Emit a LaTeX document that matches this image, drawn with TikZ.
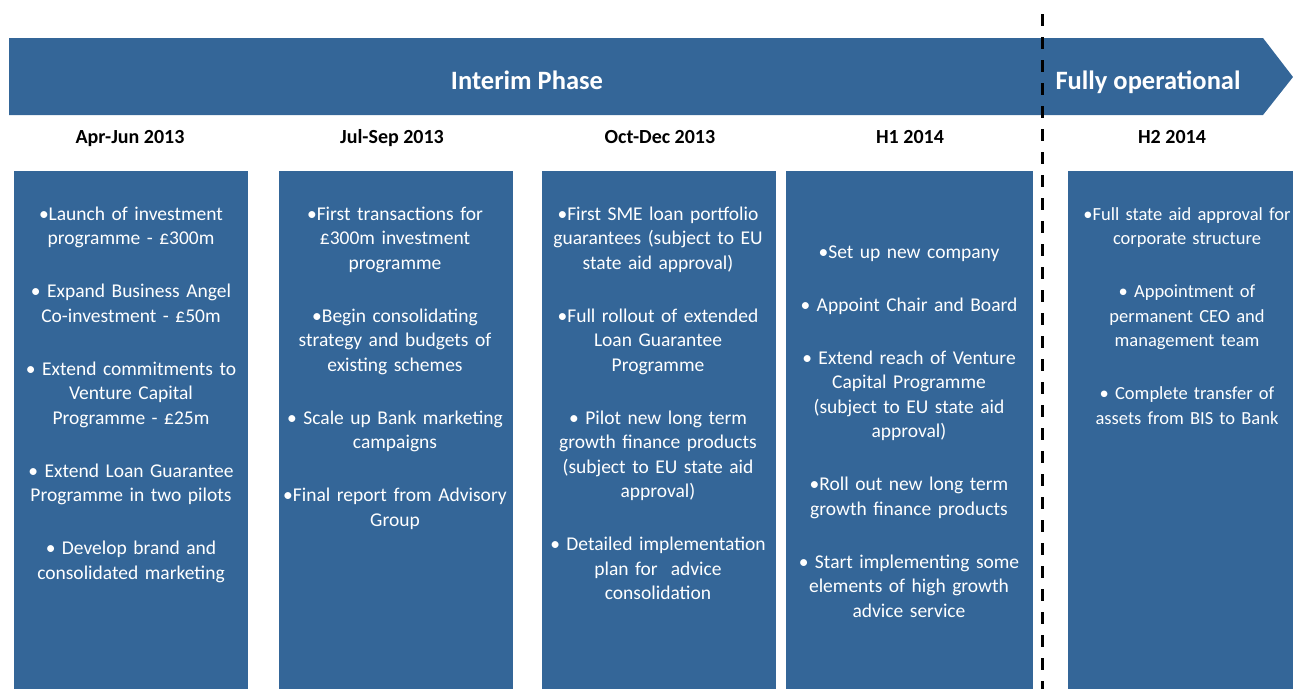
\documentclass[tikz,border=0pt]{standalone}
\usepackage{fontspec}
\setmainfont{Carlito}
\usepackage{tikz}
\usetikzlibrary{positioning}
\definecolor{planblue}{RGB}{52,102,152}
\tikzset{
  phaseBar/.style={fill=planblue},
  slot/.style={fill=planblue},                         % column panels
  phaseTitle/.style={anchor=base, text=white, font=\fontsize{26.5}{30}\selectfont\bfseries},
  period/.style={anchor=base, font=\fontsize{20}{24}\selectfont\bfseries},
  slotText/.style={anchor=base, text=white, inner sep=0pt, text width=232pt,
    align=center, font=\fontsize{19.5}{24.5}\selectfont},
  cutLine/.style={line width=3pt, dash pattern=on 12pt off 11pt}
}
\newcommand{\gap}{\\[28.5pt]}

\begin{document}
\begin{tikzpicture}[x=1pt,y=-1pt]
  \useasboundingbox (0,0) rectangle (1293,689);
  % Phase banner with arrow head
  \fill[phaseBar] (9,38) -- (1263,38) -- (1293,77) -- (1263,115) -- (9,115) -- cycle;
  % Column panels
  \foreach \xa/\xb in {14/248,279/513,542/776,786/1033,1068/1300}{%
    \fill[slot] (\xa,171) rectangle (\xb,689);
  }
  % Boundary between phases
  \coordinate (cutTop) at (1042,14);
  \coordinate (cutBot) at (1042,689);
  \draw[cutLine] (cutTop) -- (cutBot);
  \node[phaseTitle] (interim) at (527,89) {Interim Phase};
  \node[phaseTitle] (fullop) at (1148,89) {Fully operational};
  % Period headings
  \foreach \cx/\lbl [count=\i] in {130/Apr-Jun 2013,392/Jul-Sep 2013,660/Oct-Dec 2013,910/H1 2014,1172/H2 2014}{%
    \node[period] (h\i) at (\cx,143) {\lbl};
  }
  % Milestones per period
  \node[slotText] (t1) at (131,220) {%
    •Launch of investment\\programme - £300m\gap
    • Expand Business Angel\\Co-investment - £50m\gap
    • Extend commitments to\\Venture Capital\\Programme - £25m\gap
    • Extend Loan Guarantee\\Programme in two pilots\gap
    • Develop brand and\\consolidated marketing};
  \node[slotText] (t2) at (395,220) {%
    •First transactions for\\£300m investment\\programme\gap
    •Begin consolidating\\strategy and budgets of\\existing schemes\gap
    • Scale up Bank marketing\\campaigns\gap
    •Final report from Advisory\\Group};
  \node[slotText] (t3) at (658,220) {%
    •First SME loan portfolio\\guarantees (subject to EU\\state aid approval)\gap
    •Full rollout of extended\\Loan Guarantee\\Programme\gap
    • Pilot new long term\\growth finance products\\(subject to EU state aid\\approval)\gap
    • Detailed implementation\\plan for \ advice\\consolidation};
  \node[slotText] (t4) at (909,258) {%
    •Set up new company\gap
    • Appoint Chair and Board\gap
    • Extend reach of Venture\\Capital Programme\\(subject to EU state aid\\approval)\gap
    •Roll out new long term\\growth finance products\gap
    • Start implementing some\\elements of high growth\\advice service};
  % last column sits against the page edge, so a touch smaller
  \node[slotText, font=\fontsize{18.5}{24.5}\selectfont] (t5) at (1187,220) {%
    •Full state aid approval for\\corporate structure\gap
    • Appointment of\\permanent CEO and\\management team\gap
    • Complete transfer of\\assets from BIS to Bank};
\end{tikzpicture}
\end{document}
